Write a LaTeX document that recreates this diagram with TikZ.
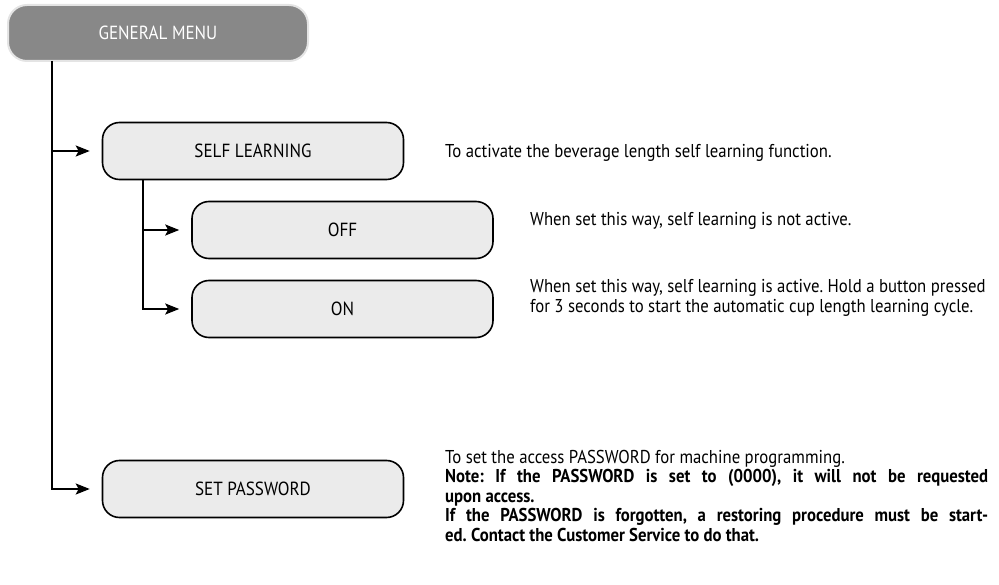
\documentclass[tikz,border=0pt]{standalone}
\usepackage{fontspec}
\setmainfont{PT Sans}[FakeStretch=0.9]
\usetikzlibrary{arrows.meta}
\frenchspacing
\definecolor{gmfill}{RGB}{136,136,136}
\definecolor{gmedge}{RGB}{228,228,228}
\definecolor{boxfill}{RGB}{235,235,235}
\tikzset{
  menubox/.style={draw=black, line width=1.6pt, fill=boxfill, rounded corners=17pt,
    minimum width=301pt, minimum height=57pt, inner sep=0pt,
    font=\fontsize{19}{21}\selectfont},
  gmbox/.style={draw=gmedge, line width=2pt, fill=gmfill, rounded corners=19pt,
    minimum width=300pt, minimum height=56pt, inner sep=0pt, text=white,
    font=\fontsize{19}{21}\selectfont},
  desc/.style={anchor=base west, inner sep=0pt, font=\frenchspacing\fontsize{18.6}{20}\selectfont},
  bdesc/.style={anchor=base west, inner sep=0pt, font=\frenchspacing\bfseries\fontsize{18.6}{20}\selectfont},
  link/.style={line width=1.8pt},
  arr/.style={link, -{Stealth[length=14pt,width=11pt,inset=3pt]}, shorten >=12pt}
}
\begin{document}
\begin{tikzpicture}[x=1pt,y=-1pt]
\useasboundingbox (0,0) rectangle (999,585);
\node[gmbox] (gm) at (158,33) {GENERAL MENU};
\node[menubox] (sl) at (253,151) {SELF LEARNING};
\node[menubox] (off) at (342.5,230) {OFF};
\node[menubox] (on) at (342.5,309) {ON};
\node[menubox] (sp) at (253,489) {SET PASSWORD};
\coordinate (t0) at (52,61);
\coordinate (s0) at (143,179.5);
\draw[arr] (t0) |- (sp.west);
\draw[arr] (t0 |- sl.west) -- (sl.west);
\draw[arr] (s0) |- (on.west);
\draw[arr] (s0 |- off.west) -- (off.west);
\node[desc] (d1) at (445,158) {To activate the beverage length self learning function.};
\node[desc] (d2) at (530,226) {When set this way, self learning is not active.};
\node[desc] (d3a) at (530,293) {When set this way, self learning is active. Hold a button pressed};
\node[desc] (d3b) at (530,313) {for 3 seconds to start the automatic cup length learning cycle.};
\node[desc] (d4a) at (445,463) {To set the access PASSWORD for machine programming.};
\node[bdesc] (d4b) at (445,482.5) {\makebox[543pt][s]{Note: If the PASSWORD is set to (0000), it will not be requested}};
\node[bdesc] (d4c) at (445,502) {upon access.};
\node[bdesc] (d4d) at (445,521.5) {\makebox[543pt][s]{If the PASSWORD is forgotten, a restoring procedure must be start-}};
\node[bdesc] (d4e) at (445,541) {ed. Contact the Customer Service to do that.};
\end{tikzpicture}
\end{document}
